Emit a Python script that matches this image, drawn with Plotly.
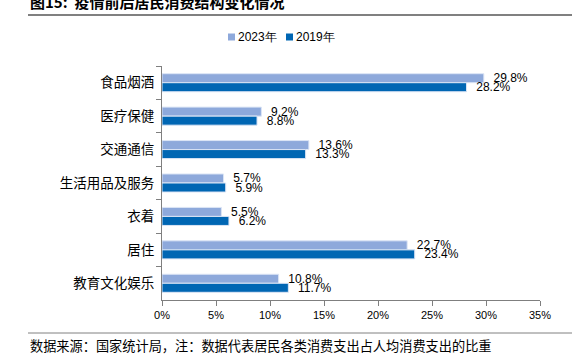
import plotly.graph_objects as go

categories = ["食品烟酒", "医疗保健", "交通通信", "生活用品及服务", "衣着", "居住", "教育文化娱乐"]
values_2023 = [29.8, 9.2, 13.6, 5.7, 5.5, 22.7, 10.8]
values_2019 = [28.2, 8.8, 13.3, 5.9, 6.2, 23.4, 11.7]
series_names = ["2023年", "2019年"]
series_colors = ["#8EA9DB", "#0066B3"]
x_ticks = [0, 5, 10, 15, 20, 25, 30, 35]
x_tick_labels = [f"{v}%" for v in x_ticks]

W, H = 572, 357
L, R, T, B = 162, 32, 66, 57
pw, ph = W - L - R, H - T - B

def px(xp):
    return (xp - L) / pw

def py(yp):
    return (H - B - yp) / ph

cjk = "Noto Sans CJK SC"
latin = "Liberation Sans"

fig = go.Figure()
for name, vals, col in zip(series_names, [values_2023, values_2019], series_colors):
    fig.add_trace(go.Bar(
        y=categories, x=vals, name=name, orientation="h",
        marker=dict(color=col, line=dict(color="#DCE5F5", width=1)),
        text=[f"  {v:.1f}%" for v in vals], textposition="outside", constraintext="none",
        textfont=dict(family=latin, size=12, color="#000000"), cliponaxis=False,
        showlegend=False,
    ))

fig.update_layout(
    width=W, height=H,
    margin=dict(l=L, r=R, t=T, b=B),
    paper_bgcolor="white", plot_bgcolor="white",
    barmode="group", bargap=0.46, bargroupgap=0,
)
fig.update_xaxes(
    range=[0, 35], tickvals=x_ticks, ticktext=x_tick_labels,
    showgrid=False, zeroline=False, showline=True, linecolor="#7f7f7f", linewidth=1,
    ticks="outside", ticklen=5, tickcolor="#7f7f7f",
    tickfont=dict(family=latin, size=11, color="#000000"),
)
fig.update_yaxes(
    categoryorder="array", categoryarray=categories, autorange="reversed",
    showgrid=False, showline=True, linecolor="#7f7f7f", linewidth=1,
    ticks="outside", ticklen=5, tickcolor="#7f7f7f", tickson="boundaries",
    tickfont=dict(family=cjk, size=13.5, color="#000000"), ticklabelstandoff=4,
)

# legend (compact, as in the reference)
legend_x = [228, 286]
for lx, name, col in zip(legend_x, series_names, series_colors):
    fig.add_shape(type="rect", xref="paper", yref="paper", x0=px(lx), x1=px(lx + 7),
                  y0=py(40.5), y1=py(33.5), fillcolor=col, line=dict(width=0))
    fig.add_annotation(text=name, xref="paper", yref="paper", x=px(lx + 8), y=py(37),
                       xanchor="left", yanchor="middle", showarrow=False,
                       font=dict(family=latin, size=12, color="#000000"))

fig.add_annotation(text="<b>图15:  疫情前后居民消费结构变化情况</b>", xref="paper", yref="paper",
                   x=px(28), y=py(1), xanchor="left", yanchor="middle", showarrow=False,
                   font=dict(family=cjk, size=15, color="#000000"))
fig.add_annotation(text="数据来源：国家统计局，注：数据代表居民各类消费支出占人均消费支出的比重",
                   xref="paper", yref="paper", x=px(28), y=py(345), xanchor="left", yanchor="middle",
                   showarrow=False, font=dict(family=cjk, size=13.2, color="#000000"))
fig.add_shape(type="line", xref="paper", yref="paper", x0=px(28), x1=px(572), y0=py(15), y1=py(15),
              line=dict(color="#808080", width=2))
fig.add_shape(type="line", xref="paper", yref="paper", x0=px(28), x1=px(572), y0=py(333), y1=py(333),
              line=dict(color="#808080", width=1))

fig.write_html("out.html", config={"displayModeBar": False},
               post_script="document.body.style.margin='0';document.body.style.overflow='hidden';")
